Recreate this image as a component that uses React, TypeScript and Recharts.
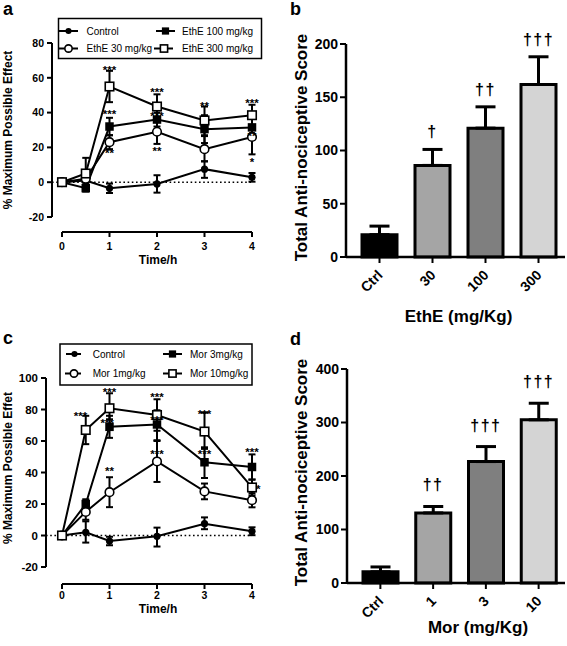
import React from 'react';
import {
  ComposedChart,
  Line,
  Bar,
  Scatter,
  XAxis,
  YAxis,
  ErrorBar,
  ReferenceLine,
  Cell,
  Label,
} from 'recharts';

const FONT = '"Liberation Sans", Arial, Helvetica, sans-serif';

// ---------- Panel a : EthE time course ----------
const TIME = [0, 0.5, 1, 2, 3, 4];
const TIME_TICKS = [0, 1, 2, 3, 4];

const ctrlA = [0, 1, -3.5, -1, 7.5, 2.8];
const ctrlAErr = [[0, 0], [5, 6], [2.7, 2.7], [5, 5], [5, 4.5], [2.5, 2.5]];
const eth30 = [0, 2, 23, 29, 19, 26];
const eth30Err = [[0, 0], [4, 5], [4, 4], [7, 7], [7, 8], [10, 6]];
const eth100 = [0, -3.4, 32, 36, 30.5, 31.5];
const eth100Err = [[0, 0], [2, 3], [5, 5], [4, 4], [8, 8], [5, 5]];
const eth300 = [0, 5, 55, 43.5, 35.5, 38.5];
const eth300Err = [[0, 0], [7, 9], [9, 9], [7, 7], [9, 8], [6, 6]];

const starAX = [1, 1, 1, 2, 2, 2, 3, 4, 4, 4];
const starAY = [66, 40.8, 18.4, 53.4, 39.7, 19.5, 45.4, 47, 28, 13.2];
const starAT = ['***', '***', '**', '***', '***', '**', '**', '***', '**', '*'];

const legendA = ['Control', 'EthE 30 mg/kg', 'EthE 100 mg/kg', 'EthE 300 mg/kg'];
const yTicksA = [-20, 0, 20, 40, 60, 80];

// ---------- Panel c : Morphine time course ----------
const ctrlC = [0, 2, -3.5, -0.5, 7.5, 2.7];
const ctrlCErr = [[0, 0], [6.5, 7], [2.7, 2.7], [6.5, 5.5], [3.5, 4], [2.5, 2.5]];
const mor1 = [0, 15, 27.5, 47, 28, 22.4];
const mor1Err = [[0, 0], [5, 5], [9.5, 9.5], [13, 13], [5, 5], [4.5, 4.5]];
const mor3 = [0, 20, 69, 70.5, 46.5, 43.5];
const mor3Err = [[0, 0], [4, 3], [7, 7], [10, 9], [10, 9.5], [8, 8]];
const mor10 = [0, 67, 80.8, 76.5, 66, 30.5];
const mor10Err = [[0, 0], [9, 9], [7, 9.5], [10, 10], [11, 12], [5, 5]];

const starCX = [0.39, 1, 0.95, 1, 2, 2, 2, 3, 3, 4, 4.13];
const starCY = [77.5, 92.7, 73, 42.5, 89.5, 74.9, 53.3, 78.7, 53.3, 54.6, 31.1];
const starCT = ['***', '***', '***', '**', '***', '***', '***', '***', '***', '***', '*'];

const legendC = ['Control', 'Mor 1mg/kg', 'Mor 3mg/kg', 'Mor 10mg/kg'];
const yTicksC = [-20, 0, 20, 40, 60, 80, 100];

// ---------- Panel b : EthE totals ----------
const catsB = ['Ctrl', '30', '100', '300'];
const valsB = [21, 86, 121, 162];
const errsB = [8, 15, 20, 26];
const daggersB = ['', '\u2020', '\u2020\u2020', '\u2020\u2020\u2020'];
const yTicksB = [0, 50, 100, 150, 200];

// ---------- Panel d : Morphine totals ----------
const catsD = ['Ctrl', '1', '3', '10'];
const valsD = [21, 131, 227, 305];
const errsD = [9, 12, 28, 31];
const daggersD = ['', '\u2020\u2020', '\u2020\u2020\u2020', '\u2020\u2020\u2020'];
const yTicksD = [0, 100, 200, 300, 400];

const barColors = ['#000000', '#a5a5a5', '#7f7f7f', '#d4d4d4'];

// ---------- helpers ----------
const series = (v: number[], e: number[][]) => TIME.map((x, i) => ({ x, y: v[i], e: e[i] }));
const starData = (xs: number[], ys: number[], ts: string[]) =>
  xs.map((x, i) => ({ x, y: ys[i], t: ts[i] }));

type Kind = 'fc' | 'oc' | 'fs' | 'os';

const marker = (kind: Kind, cx: number, cy: number, key?: any, scale = 1) => {
  if (kind === 'fc') return <circle key={key} cx={cx} cy={cy} r={3.6 * scale} fill="#000" />;
  if (kind === 'oc')
    return <circle key={key} cx={cx} cy={cy} r={4.3 * scale} fill="#fff" stroke="#000" strokeWidth={1.6} />;
  if (kind === 'fs') {
    const s = 8.5 * scale;
    return <rect key={key} x={cx - s / 2} y={cy - s / 2} width={s} height={s} fill="#000" />;
  }
  const s = 8.5 * scale;
  return <rect key={key} x={cx - s / 2} y={cy - s / 2} width={s} height={s} fill="#fff" stroke="#000" strokeWidth={1.6} />;
};

const dotRenderer = (kind: Kind) => (props: any) => {
  const { cx, cy, index } = props;
  if (cx == null || cy == null) return <g key={'n' + index} />;
  return marker(kind, cx, cy, 'd' + index);
};

const StarShape = (props: any) => {
  const { cx, cy, payload } = props;
  return (
    <text x={cx} y={cy + 6.5} textAnchor="middle" fontFamily={FONT} fontWeight="bold" fontSize={11.5} fill="#000">
      {payload.t}
    </text>
  );
};

const vTitle = (text: string, cx: number, cy: number, size: number) => () => (
  <text
    x={cx}
    y={cy}
    transform={`rotate(-90 ${cx} ${cy})`}
    textAnchor="middle"
    fontFamily={FONT}
    fontWeight="bold"
    fontSize={size}
    fill="#000"
  >
    {text}
  </text>
);

const hTitle = (text: string, cx: number, cy: number, size: number) => () => (
  <text x={cx} y={cy} textAnchor="middle" fontFamily={FONT} fontWeight="bold" fontSize={size} fill="#000">
    {text}
  </text>
);

type LinePanelProps = {
  w: number;
  h: number;
  margin: any;
  yWidth: number;
  xDomain: [number, number];
  yDomain: [number, number];
  yTicks: number[];
  list: { data: any[]; kind: Kind }[];
  stars: any[];
  yTitle: () => any;
  xTitle: () => any;
  xTickFont: number;
  yTickFont: number;
  xTickMargin: number;
};

function LinePanel(p: LinePanelProps) {
  const xTickStyle = { fill: '#000', fontSize: p.xTickFont, fontWeight: 700, fontFamily: FONT };
  const yTickStyle = { fill: '#000', fontSize: p.yTickFont, fontWeight: 700, fontFamily: FONT };
  return (
    <ComposedChart width={p.w} height={p.h} margin={p.margin}>
      <XAxis
        type="number"
        dataKey="x"
        domain={p.xDomain}
        ticks={TIME_TICKS}
        allowDataOverflow
        axisLine={false}
        tickLine={{ stroke: '#000', strokeWidth: 2 }}
        tickSize={5}
        tickMargin={p.xTickMargin}
        tick={xTickStyle}
        height={30}
      >
        <Label content={p.xTitle} />
      </XAxis>
      <YAxis
        type="number"
        domain={p.yDomain}
        ticks={p.yTicks}
        allowDataOverflow
        axisLine={false}
        tickLine={{ stroke: '#000', strokeWidth: 2 }}
        tickSize={5}
        tickMargin={3}
        tick={yTickStyle}
        width={p.yWidth}
      >
        <Label content={p.yTitle} />
      </YAxis>
      <ReferenceLine
        ifOverflow="visible"
        segment={[
          { x: p.xDomain[0], y: 0 },
          { x: 4, y: 0 },
        ]}
        stroke="#000"
        strokeWidth={1.6}
        strokeDasharray="1.6 2.6"
      />
      <ReferenceLine
        ifOverflow="visible"
        segment={[
          { x: p.xDomain[0], y: p.yTicks[0] },
          { x: p.xDomain[0], y: p.yTicks[p.yTicks.length - 1] },
        ]}
        stroke="#000"
        strokeWidth={2}
      />
      <ReferenceLine
        ifOverflow="visible"
        segment={[
          { x: 0, y: p.yDomain[0] },
          { x: 4, y: p.yDomain[0] },
        ]}
        stroke="#000"
        strokeWidth={2}
      />
      {p.list.map((s, i) => (
        <Line
          key={i}
          data={s.data}
          dataKey="y"
          stroke="#000"
          strokeWidth={2}
          dot={dotRenderer(s.kind)}
          activeDot={false}
          isAnimationActive={false}
        >
          <ErrorBar dataKey="e" direction="y" width={3.5} strokeWidth={2} stroke="#000" />
        </Line>
      ))}
      <Scatter data={p.stars} dataKey="y" shape={StarShape} isAnimationActive={false} />
    </ComposedChart>
  );
}

const RotTick = (props: any) => {
  const { x, y, payload } = props;
  return (
    <text
      x={0}
      y={0}
      transform={`translate(${x + 4},${y + 11}) rotate(-45)`}
      textAnchor="end"
      fontFamily={FONT}
      fontWeight="bold"
      fontSize={14}
      fill="#000"
    >
      {payload.value}
    </text>
  );
};

const daggerShape = (off: number) => (props: any) => {
  const { cx, cy, payload } = props;
  if (!payload.d) return <g />;
  return (
    <text
      x={cx}
      y={cy - off + 5}
      textAnchor="middle"
      fontFamily={FONT}
      fontWeight="bold"
      fontSize={16}
      letterSpacing={1.5}
      fill="#000"
    >
      {payload.d}
    </text>
  );
};

type BarPanelProps = {
  w: number;
  h: number;
  margin: any;
  cats: string[];
  vals: number[];
  errs: number[];
  dags: string[];
  yTicks: number[];
  dagOff: number;
  yTitle: () => any;
  xTitle: () => any;
};

function BarPanel(p: BarPanelProps) {
  const data = p.cats.map((c, i) => ({
    c,
    v: p.vals[i],
    e: [0, p.errs[i]],
    top: p.vals[i] + p.errs[i],
    d: p.dags[i],
  }));
  const tickStyle = { fill: '#000', fontSize: 14, fontWeight: 700, fontFamily: FONT };
  return (
    <ComposedChart width={p.w} height={p.h} margin={p.margin} data={data}>
      <XAxis
        dataKey="c"
        type="category"
        padding={{ left: 7, right: 0 }}
        axisLine={{ stroke: '#000', strokeWidth: 2.5 }}
        tickLine={{ stroke: '#000', strokeWidth: 2 }}
        tickSize={6}
        tick={<RotTick />}
        interval={0}
        height={40}
      >
        <Label content={p.xTitle} />
      </XAxis>
      <YAxis
        type="number"
        domain={[p.yTicks[0], p.yTicks[p.yTicks.length - 1]]}
        ticks={p.yTicks}
        axisLine={{ stroke: '#000', strokeWidth: 2.5 }}
        tickLine={{ stroke: '#000', strokeWidth: 2 }}
        tickSize={6}
        tickMargin={2}
        tick={tickStyle}
        width={45}
      >
        <Label content={p.yTitle} />
      </YAxis>
      <Bar dataKey="v" barSize={35} stroke="#000" strokeWidth={3} isAnimationActive={false}>
        {data.map((_, i) => (
          <Cell key={i} fill={barColors[i]} />
        ))}
        <ErrorBar dataKey="e" direction="y" width={10} strokeWidth={3} stroke="#000" />
      </Bar>
      <Scatter dataKey="top" shape={daggerShape(p.dagOff)} isAnimationActive={false} />
    </ComposedChart>
  );
}

function LegendBox({
  box,
  rows,
  labels,
  kinds,
}: {
  box: [number, number, number, number];
  rows: { y: number; l1: number; l2: number; m: number; t: number }[];
  labels: string[];
  kinds: Kind[];
}) {
  return (
    <g>
      <rect x={box[0]} y={box[1]} width={box[2]} height={box[3]} fill="#fff" stroke="#000" strokeWidth={1.5} />
      {rows.map((r, i) => (
        <g key={i}>
          <line x1={r.l1} x2={r.l2} y1={r.y} y2={r.y} stroke="#000" strokeWidth={2} />
          {marker(kinds[i], r.m, r.y, undefined, 0.85)}
          <text x={r.t} y={r.y + 3.6} fontFamily={FONT} fontSize={10} fill="#000">
            {labels[i]}
          </text>
        </g>
      ))}
    </g>
  );
}

const kindsOrder: Kind[] = ['fc', 'oc', 'fs', 'os'];

export default function App() {
  const listA = [
    { data: series(ctrlA, ctrlAErr), kind: 'fc' as Kind },
    { data: series(eth30, eth30Err), kind: 'oc' as Kind },
    { data: series(eth100, eth100Err), kind: 'fs' as Kind },
    { data: series(eth300, eth300Err), kind: 'os' as Kind },
  ];
  const listC = [
    { data: series(ctrlC, ctrlCErr), kind: 'fc' as Kind },
    { data: series(mor1, mor1Err), kind: 'oc' as Kind },
    { data: series(mor3, mor3Err), kind: 'fs' as Kind },
    { data: series(mor10, mor10Err), kind: 'os' as Kind },
  ];
  return (
    <div style={{ position: 'relative', width: 567, height: 646, background: '#fff', overflow: 'hidden' }}>
      <style>{'body{margin:0;}'}</style>
      <div style={{ position: 'absolute', left: 0, top: 0 }}>
        <LinePanel
          w={290}
          h={320}
          margin={{ top: 43, right: 23.75, left: 12, bottom: 58 }}
          yWidth={40}
          xDomain={[-0.2105, 4.3]}
          yDomain={[-28.62, 80]}
          yTicks={yTicksA}
          list={listA}
          stars={starData(starAX, starAY, starAT)}
          yTitle={vTitle('% Maximum Possible Effect', 11.5, 130, 12)}
          xTitle={hTitle('Time/h', 158, 264, 12)}
          xTickFont={10.5}
          yTickFont={10.5}
          xTickMargin={6}
        />
      </div>
      <div style={{ position: 'absolute', left: 0, top: 320 }}>
        <LinePanel
          w={290}
          h={326}
          margin={{ top: 58, right: 23.75, left: 12, bottom: 32 }}
          yWidth={34}
          xDomain={[-0.3368, 4.3]}
          yDomain={[-30.79, 100]}
          yTicks={yTicksC}
          list={listC}
          stars={starData(starCX, starCY, starCT)}
          yTitle={vTitle('% Maximum Possible Effet', 11.5, 148, 12)}
          xTitle={hTitle('Time/h', 158, 293, 12)}
          xTickFont={10.5}
          yTickFont={11.5}
          xTickMargin={3}
        />
      </div>
      <div style={{ position: 'absolute', left: 290, top: 0 }}>
        <BarPanel
          w={277}
          h={330}
          margin={{ top: 44, right: 2, left: 11, bottom: 33 }}
          cats={catsB}
          vals={valsB}
          errs={errsB}
          dags={daggersB}
          yTicks={yTicksB}
          dagOff={17}
          yTitle={vTitle('Total Anti-nociceptive Score', 17, 147.5, 17)}
          xTitle={hTitle('EthE (mg/Kg)', 168.5, 321.5, 17)}
        />
      </div>
      <div style={{ position: 'absolute', left: 290, top: 320 }}>
        <BarPanel
          w={277}
          h={326}
          margin={{ top: 49, right: 2, left: 12, bottom: 23 }}
          cats={catsD}
          vals={valsD}
          errs={errsD}
          dags={daggersD}
          yTicks={yTicksD}
          dagOff={21}
          yTitle={vTitle('Total Anti-nociceptive Score', 17, 152.5, 17)}
          xTitle={hTitle('Mor (mg/Kg)', 188, 313, 17)}
        />
      </div>
      <svg
        width={567}
        height={646}
        style={{ position: 'absolute', left: 0, top: 0, pointerEvents: 'none' }}
      >
        <LegendBox
          box={[58.5, 18.5, 203, 40]}
          rows={[
            { y: 31, l1: 59, l2: 78, m: 68.5, t: 86.5 },
            { y: 48.5, l1: 59, l2: 78, m: 68.5, t: 86.5 },
            { y: 31, l1: 156, l2: 175, m: 165.5, t: 182 },
            { y: 48.5, l1: 154, l2: 173, m: 164, t: 182 },
          ]}
          labels={legendA}
          kinds={kindsOrder}
        />
        <LegendBox
          box={[60, 344, 192, 41]}
          rows={[
            { y: 354, l1: 66, l2: 81, m: 74.5, t: 92.7 },
            { y: 373.5, l1: 65, l2: 81, m: 74, t: 92.7 },
            { y: 354, l1: 163, l2: 182, m: 172.5, t: 190 },
            { y: 373.5, l1: 163, l2: 182, m: 172.5, t: 190 },
          ]}
          labels={legendC}
          kinds={kindsOrder}
        />
        <g fontFamily={FONT} fontWeight="bold" fontSize={18} fill="#000">
          <text x={3} y={15}>a</text>
          <text x={290} y={15}>b</text>
          <text x={3} y={344}>c</text>
          <text x={290} y={345}>d</text>
        </g>
      </svg>
    </div>
  );
}
